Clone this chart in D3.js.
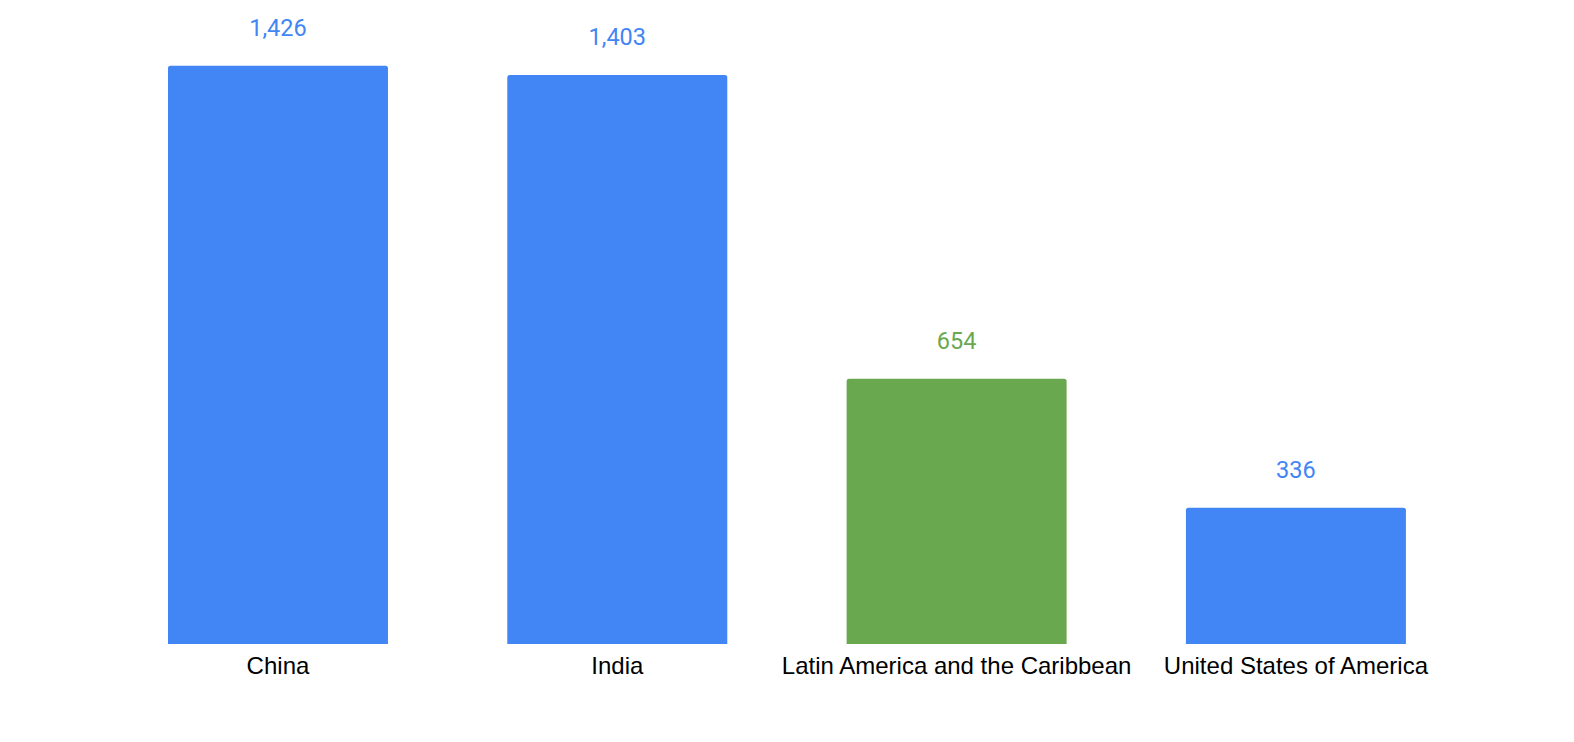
<!DOCTYPE html>
<html>
<head>
<meta charset="utf-8">
<script src="https://cdn.jsdelivr.net/npm/d3@7"></script>
<style>
  html, body { margin: 0; padding: 0; background: #fff; }
  svg { display: block; }
</style>
</head>
<body>
<svg id="chart" width="1574" height="742"></svg>
<script>
const categories = ["China", "India", "Latin America and the Caribbean", "United States of America"];
const values = [1426, 1403, 654, 336];
const barColors = ["#4285F4", "#4285F4", "#6AA84F", "#4285F4"];

const svg = d3.select("#chart");
const baseY = 644, topY = 65.7;

const x = d3.scaleBand()
  .domain(categories)
  .range([108.3, 1465.6])
  .paddingInner(0.3517)
  .paddingOuter(0.1759);

const y = d3.scaleLinear()
  .domain([0, d3.max(values)])
  .range([baseY, topY]);

const data = categories.map((c, i) => ({ c, v: values[i], col: barColors[i] }));

function barPath(d) {
  const x0 = x(d.c), w = x.bandwidth(), y0 = y(d.v), y1 = baseY, r = 2.5;
  return `M${x0},${y1}V${y0 + r}Q${x0},${y0} ${x0 + r},${y0}H${x0 + w - r}Q${x0 + w},${y0} ${x0 + w},${y0 + r}V${y1}Z`;
}

svg.append("g").selectAll("path")
  .data(data).join("path")
  .attr("d", barPath)
  .attr("fill", d => d.col);

svg.append("g").selectAll("text")
  .data(data).join("text")
  .attr("x", d => x(d.c) + x.bandwidth() / 2)
  .attr("y", d => y(d.v) - 30)
  .attr("text-anchor", "middle")
  .attr("font-family", "Roboto, sans-serif")
  .attr("font-size", 23.5)
  .attr("fill", d => d.col)
  .text(d => d3.format(",")(d.v));

const xAxis = d3.axisBottom(x).tickSize(0).tickPadding(0);
const gx = svg.append("g").attr("transform", `translate(0,${baseY})`).call(xAxis);
gx.select(".domain").remove();
gx.selectAll("text")
  .attr("dy", null)
  .attr("y", 30)
  .attr("font-family", "'Liberation Sans', Arial, sans-serif")
  .attr("font-size", 24)
  .attr("fill", "#000");
</script>
</body>
</html>
